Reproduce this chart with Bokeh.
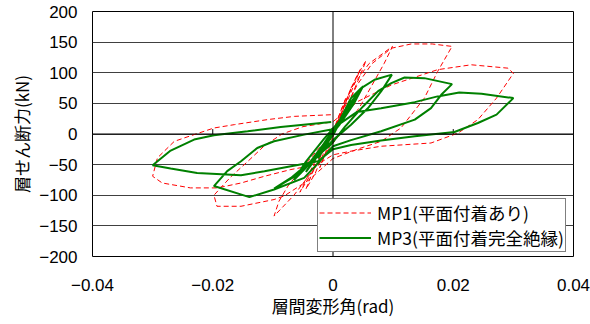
from bokeh.plotting import figure
from bokeh.models import Range1d, FixedTicker, Span, Legend, LegendItem
from bokeh.embed import file_html
from bokeh.resources import INLINE

# ---- data (story drift angle [rad], story shear [kN]) ----
mp1_drift = [0, 0.001, 0.0022, 0.0012, 0, -0.001, -0.0022, -0.0012, 0,
             0.0015, 0.003, 0.0045, 0.0035, 0.002, 0, -0.0015, -0.003, -0.0045, -0.0035, -0.002, 0,
             0.002, 0.004, 0.0055, 0.0045, 0.003, 0.001, -0.001, -0.003, -0.0055, -0.0045, -0.003, -0.001,
             0.001, 0.003, 0.006, 0.0099, 0.0085, 0.0065, 0.0045, 0.002, 0, -0.003, -0.0065, -0.0098,
             -0.009, -0.0075, -0.005, -0.0025, 0,
             0.002, 0.004, 0.0065, 0.0097, 0.013, 0.0165, 0.0198, 0.0174, 0.0152, 0.0113, 0.008, 0.004, 0,
             -0.004, -0.0081, -0.0098, -0.0153, -0.0193, -0.0198, -0.0187, -0.017, -0.0142, -0.0115,
             -0.0085, -0.005, 0,
             0.0041, 0.0097, 0.0174, 0.023, 0.0291, 0.030, 0.0272, 0.0241, 0.0208, 0.0163, 0.008, 0.003, 0,
             -0.0026, -0.007, -0.0114, -0.0153, -0.0192, -0.0237, -0.0284, -0.030, -0.0292, -0.0264,
             -0.0231, -0.0198, -0.0164, -0.0109, -0.0064, 0]
mp1_shear = [0, 30, 60, 35, 5, -25, -55, -30, -5,
             35, 75, 105, 80, 45, 5, -30, -65, -90, -65, -35, 0,
             50, 95, 120, 95, 60, 20, -15, -55, -95, -75, -45, -10,
             25, 75, 115, 143, 115, 80, 45, 10, -15, -55, -100, -134,
             -110, -85, -55, -25, 0,
             40, 80, 115, 140, 147, 147, 143, 102, 58.6, 9.8, -12, -25, -40,
             -75, -101, -107, -118, -118, -100, -88, -70, -45, -20,
             0, 12, 20,
             53, 80, 105, 113, 107.5, 99, 58.6, 23.5, 1.6, -14.7, -20, -28, -34,
             -50, -58, -69, -80, -88, -88, -80, -69, -39, -12,
             -1, 9.8, 15.3, 23.5, 28.8, 31.6]

mp3_drift = [0, 0.0012, 0.0025, 0.0015, 0, -0.0012, -0.0025, -0.0015, 0,
             0.002, 0.0045, 0.003, 0.0008, -0.001, -0.003, -0.0045, -0.003, -0.001, 0.001,
             0.003, 0.005, 0.0035, 0.001, -0.002, -0.0045, -0.0065, -0.0045, -0.0015, 0.001,
             0.003, 0.0047, 0.0069, 0.0098, 0.008, 0.0058, 0.003, 0, -0.003, -0.0065, -0.0098,
             -0.007, -0.0037, -0.0003, 0.002,
             0.005, 0.0075, 0.0097, 0.0119, 0.0152, 0.0198, 0.018, 0.0163, 0.0136, 0.008, 0.003, 0,
             -0.0025, -0.0048, -0.0098, -0.0139, -0.0198, -0.0176, -0.0153, -0.0126, -0.0098,
             -0.0048, -0.0003,
             0.004, 0.008, 0.0136, 0.0174, 0.021, 0.0247, 0.030, 0.0272, 0.0241, 0.0202, 0.0136,
             0.008, 0.003, 0, -0.0025, -0.007, -0.0114, -0.0153, -0.0226, -0.027, -0.030,
             -0.027, -0.0231, -0.0198, -0.0142, -0.0087, -0.0003]
mp3_shear = [0, 22, 45, 25, 2, -20, -40, -22, -2,
             35, 72, 45, 12, -12, -42, -62, -38, -8, 18,
             52, 78, 50, 14, -22, -55, -75, -45, -8, 20,
             58.6, 75, 88.6, 97, 69.5, 42, 15, -10, -40, -70, -89,
             -71.7, -44.5, -17, 12,
             45, 70, 83, 92.3, 91.2, 81.4, 64, 42.3, 23.5, 4.4, -10, -20,
             -48, -71.7, -90.6, -103, -85, -60.7, -44.5, -22.8, -11.9,
             -1, 7.2,
             36, 42, 52, 61.4, 67.9, 65.8, 58.6, 31.6, 17.9, 3.3, -3.7,
             -10.7, -18, -25, -44.4, -52.6, -60.8, -67.3, -63.5, -56.4, -51,
             -27, -9.1, -2.1, 4.4, 11.4, 19.5]

x_ticks = [-0.04, -0.02, 0, 0.02, 0.04]
x_tick_labels = ["\u22120.04", "\u22120.02", "0", "0.02", "0.04"]
y_ticks = [-200, -150, -100, -50, 0, 50, 100, 150, 200]
y_tick_labels = ["\u2212200", "\u2212150", "\u2212100", "\u221250", "0", "50", "100", "150", "200"]

series_names = ["MP1(平面付着あり)", "MP3(平面付着完全絶縁)"]
x_title = "層間変形角(rad)"
y_title = "層せん断力(kN)"

JP = "Noto Sans CJK JP"
NUM = "Liberation Sans"

p = figure(width=590, height=324, output_backend="svg", toolbar_location=None,
           x_range=Range1d(-0.04, 0.04), y_range=Range1d(-200, 200),
           min_border_left=92, min_border_right=17, min_border_top=11, min_border_bottom=68)
p.background_fill_color = "white"
p.border_fill_color = "white"
p.outline_line_color = "black"
p.outline_line_width = 1

# axes (labels only; the crossing axis lines are drawn as spans)
p.xaxis.ticker = FixedTicker(ticks=x_ticks)
p.xaxis.major_label_overrides = dict(zip(x_ticks, x_tick_labels))
p.yaxis.ticker = FixedTicker(ticks=y_ticks)
p.yaxis.major_label_overrides = dict(zip(y_ticks, y_tick_labels))
for ax in (p.xaxis[0], p.yaxis[0]):
    ax.axis_line_color = None
    ax.major_tick_line_color = None
    ax.minor_tick_line_color = None
    ax.major_label_text_font = NUM
    ax.major_label_text_font_size = "17px"
    ax.major_label_text_color = "black"
    ax.axis_label_text_font = JP
    ax.axis_label_text_font_size = "17px"
    ax.axis_label_text_font_style = "normal"
    ax.axis_label_text_color = "black"
p.xaxis.axis_label = x_title
p.yaxis.axis_label = y_title
p.xaxis.major_label_standoff = 16
p.xaxis.axis_label_standoff = -1
p.yaxis.major_label_standoff = 9
p.yaxis.axis_label_standoff = 2

p.xgrid.grid_line_color = None
p.ygrid.ticker = FixedTicker(ticks=y_ticks)
p.ygrid.grid_line_color = "#404040"
p.ygrid.grid_line_width = 1

p.add_layout(Span(location=0, dimension="width", line_color="black", line_width=1))
p.add_layout(Span(location=0, dimension="height", line_color="black", line_width=1))
p.segment(x0=x_ticks, x1=x_ticks, y0=[0] * len(x_ticks), y1=[8] * len(x_ticks),
          line_color="black", line_width=1)

r1 = p.line(mp1_drift, mp1_shear, line_color="#FF0000", line_width=1, line_dash="5 3")
r3 = p.line(mp3_drift, mp3_shear, line_color="#008000", line_width=2)

legend = Legend(items=[LegendItem(label=series_names[0], renderers=[r1]),
                       LegendItem(label=series_names[1], renderers=[r3])],
                location=(225, 4), orientation="vertical")
legend.label_text_font = JP
legend.label_text_font_size = "17.5px"
legend.label_text_color = "black"
legend.border_line_color = "black"
legend.border_line_width = 1
legend.background_fill_color = "white"
legend.background_fill_alpha = 1
legend.padding = 1
legend.spacing = 0
legend.margin = 0
legend.glyph_width = 52
legend.glyph_height = 25
legend.label_height = 25
legend.label_standoff = 6
p.add_layout(legend, "center")

open("out.html", "w").write(file_html(p, INLINE))
